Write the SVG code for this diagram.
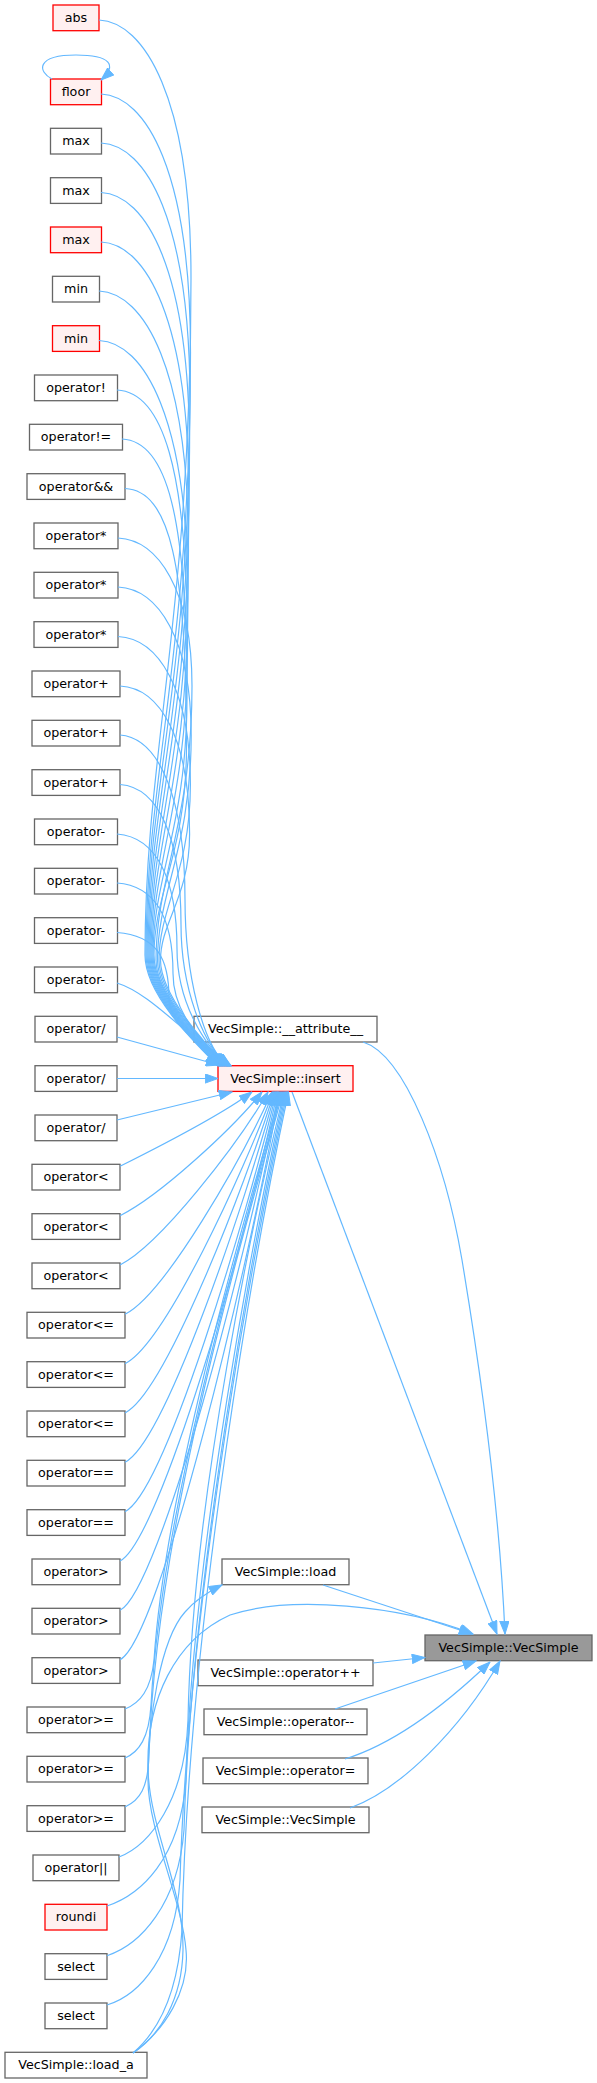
<svg xmlns="http://www.w3.org/2000/svg" width="597" height="2083" viewBox="0 0 597 2083">
<style>
.n rect{fill:#ffffff;stroke:#666666;stroke-width:1.3}
.r rect{fill:#fff0f0;stroke:#ff0000;stroke-width:1.3}
.g rect{fill:#999999;stroke:#666666;stroke-width:1.3}
text{font-family:"DejaVu Sans",sans-serif;font-size:12.7px;text-anchor:middle;fill:#000000}
#edges path{fill:none;stroke:#63b8ff;stroke-width:1.2;marker-end:url(#ah)}
</style>
<defs>
<marker id="ah" viewBox="0 0 14 10" refX="13.3" refY="5" markerWidth="14" markerHeight="10" markerUnits="userSpaceOnUse" orient="auto">
<path d="M0.5,0.4 L13.3,5 L0.5,9.6 z" fill="#63b8ff" stroke="#63b8ff" stroke-width="1"/>
</marker>
</defs>
<rect width="597" height="2083" fill="#ffffff"/>
<g id="nodes">
<g id="n_abs" class="r"><rect x="53" y="5" width="46" height="25.7"/><text x="76" y="22">abs</text></g>
<g id="n_floor" class="r"><rect x="50.5" y="79" width="51" height="25.7"/><text x="76" y="96">floor</text></g>
<g id="n_max1" class="n"><rect x="50.5" y="128.3" width="51" height="25.7"/><text x="76" y="145.3">max</text></g>
<g id="n_max2" class="n"><rect x="50.5" y="177.7" width="51" height="25.7"/><text x="76" y="194.7">max</text></g>
<g id="n_max3" class="r"><rect x="50.5" y="227" width="51" height="25.7"/><text x="76" y="244">max</text></g>
<g id="n_min1" class="n"><rect x="52.5" y="276.3" width="47" height="25.7"/><text x="76" y="293.3">min</text></g>
<g id="n_min2" class="r"><rect x="52.5" y="325.7" width="47" height="25.7"/><text x="76" y="342.7">min</text></g>
<g id="n_not" class="n"><rect x="34.5" y="375" width="83" height="25.7"/><text x="76" y="392">operator!</text></g>
<g id="n_ne" class="n"><rect x="29.5" y="424.3" width="93" height="25.7"/><text x="76" y="441.3">operator!=</text></g>
<g id="n_and" class="n"><rect x="27" y="473.7" width="98" height="25.7"/><text x="76" y="490.7">operator&amp;&amp;</text></g>
<g id="n_mul1" class="n"><rect x="34" y="523" width="84" height="25.7"/><text x="76" y="540">operator*</text></g>
<g id="n_mul2" class="n"><rect x="34" y="572.3" width="84" height="25.7"/><text x="76" y="589.3">operator*</text></g>
<g id="n_mul3" class="n"><rect x="34" y="621.7" width="84" height="25.7"/><text x="76" y="638.7">operator*</text></g>
<g id="n_add1" class="n"><rect x="32" y="671" width="88" height="25.7"/><text x="76" y="688">operator+</text></g>
<g id="n_add2" class="n"><rect x="32" y="720.3" width="88" height="25.7"/><text x="76" y="737.3">operator+</text></g>
<g id="n_add3" class="n"><rect x="32" y="769.7" width="88" height="25.7"/><text x="76" y="786.7">operator+</text></g>
<g id="n_sub1" class="n"><rect x="34.5" y="819" width="83" height="25.7"/><text x="76" y="836">operator-</text></g>
<g id="n_sub2" class="n"><rect x="34.5" y="868.3" width="83" height="25.7"/><text x="76" y="885.3">operator-</text></g>
<g id="n_sub3" class="n"><rect x="34.5" y="917.7" width="83" height="25.7"/><text x="76" y="934.7">operator-</text></g>
<g id="n_sub4" class="n"><rect x="34.5" y="967" width="83" height="25.7"/><text x="76" y="984">operator-</text></g>
<g id="n_div1" class="n"><rect x="35" y="1016.3" width="82" height="25.7"/><text x="76" y="1033.3">operator/</text></g>
<g id="n_div2" class="n"><rect x="35" y="1065.7" width="82" height="25.7"/><text x="76" y="1082.7">operator/</text></g>
<g id="n_div3" class="n"><rect x="35" y="1115" width="82" height="25.7"/><text x="76" y="1132">operator/</text></g>
<g id="n_lt1" class="n"><rect x="32" y="1164.3" width="88" height="25.7"/><text x="76" y="1181.3">operator&lt;</text></g>
<g id="n_lt2" class="n"><rect x="32" y="1213.7" width="88" height="25.7"/><text x="76" y="1230.7">operator&lt;</text></g>
<g id="n_lt3" class="n"><rect x="32" y="1263" width="88" height="25.7"/><text x="76" y="1280">operator&lt;</text></g>
<g id="n_le1" class="n"><rect x="27" y="1312.3" width="98" height="25.7"/><text x="76" y="1329.3">operator&lt;=</text></g>
<g id="n_le2" class="n"><rect x="27" y="1361.7" width="98" height="25.7"/><text x="76" y="1378.7">operator&lt;=</text></g>
<g id="n_le3" class="n"><rect x="27" y="1411" width="98" height="25.7"/><text x="76" y="1428">operator&lt;=</text></g>
<g id="n_eq1" class="n"><rect x="27" y="1460.3" width="98" height="25.7"/><text x="76" y="1477.3">operator==</text></g>
<g id="n_eq2" class="n"><rect x="27" y="1509.7" width="98" height="25.7"/><text x="76" y="1526.7">operator==</text></g>
<g id="n_gt1" class="n"><rect x="32" y="1559" width="88" height="25.7"/><text x="76" y="1576">operator&gt;</text></g>
<g id="n_gt2" class="n"><rect x="32" y="1608.3" width="88" height="25.7"/><text x="76" y="1625.3">operator&gt;</text></g>
<g id="n_gt3" class="n"><rect x="32" y="1657.7" width="88" height="25.7"/><text x="76" y="1674.7">operator&gt;</text></g>
<g id="n_ge1" class="n"><rect x="27" y="1707" width="98" height="25.7"/><text x="76" y="1724">operator&gt;=</text></g>
<g id="n_ge2" class="n"><rect x="27" y="1756.3" width="98" height="25.7"/><text x="76" y="1773.3">operator&gt;=</text></g>
<g id="n_ge3" class="n"><rect x="27" y="1805.7" width="98" height="25.7"/><text x="76" y="1822.7">operator&gt;=</text></g>
<g id="n_or" class="n"><rect x="33" y="1855" width="86" height="25.7"/><text x="76" y="1872">operator||</text></g>
<g id="n_roundi" class="r"><rect x="45" y="1904.3" width="62" height="25.7"/><text x="76" y="1921.3">roundi</text></g>
<g id="n_sel1" class="n"><rect x="45" y="1953.7" width="62" height="25.7"/><text x="76" y="1970.7">select</text></g>
<g id="n_sel2" class="n"><rect x="45" y="2003" width="62" height="25.7"/><text x="76" y="2020">select</text></g>
<g id="n_load_a" class="n"><rect x="5" y="2052.3" width="142" height="25.7"/><text x="76" y="2069.3">VecSimple::load_a</text></g>
<g id="n_attr" class="n"><rect x="194" y="1016.3" width="183" height="25.7"/><text x="285.5" y="1033.3">VecSimple::__attribute__</text></g>
<g id="n_insert" class="r"><rect x="218" y="1065.7" width="135" height="25.7"/><text x="285.5" y="1082.7">VecSimple::insert</text></g>
<g id="n_load" class="n"><rect x="222" y="1559" width="127" height="25.7"/><text x="285.5" y="1576">VecSimple::load</text></g>
<g id="n_vecsimple" class="g"><rect x="425" y="1635" width="167" height="25.7"/><text x="508.5" y="1652">VecSimple::VecSimple</text></g>
<g id="n_inc" class="n"><rect x="198" y="1660" width="175" height="25.7"/><text x="285.5" y="1677">VecSimple::operator++</text></g>
<g id="n_dec" class="n"><rect x="204" y="1709" width="163" height="25.7"/><text x="285.5" y="1726">VecSimple::operator--</text></g>
<g id="n_assign" class="n"><rect x="203" y="1758" width="165" height="25.7"/><text x="285.5" y="1775">VecSimple::operator=</text></g>
<g id="n_ctor2" class="n"><rect x="202" y="1807" width="167" height="25.7"/><text x="285.5" y="1824">VecSimple::VecSimple</text></g>
</g>
<g id="edges">
<path d="M52,79 C38,72 35,55 76,55 C110,55 118,65 101,80"/>
<path d="M99,20 C144,22 191,97.4 191,278 C191,616.5 145,751.9 145,955 C145,995 196,1044 218,1066"/>
<path d="M101,94 C146,96 190.5,171.4 190.5,352 C190.5,653.5 146,774.1 146,955 C146,995 196.7,1044 218.7,1066"/>
<path d="M101,143 C146,145 190,220.4 190,401 C190,678 147,788.8 147,955 C147,995 197.4,1044 219.4,1066"/>
<path d="M101,192.5 C146,194.5 189.5,269.9 189.5,450.5 C189.5,702.8 148,803.7 148,955 C148,995 198.1,1044 220.1,1066"/>
<path d="M101,242 C146,244 189,319.4 189,500 C189,727.5 149,818.5 149,955 C149,995 198.8,1044 220.8,1066"/>
<path d="M99,291 C144,293 188.5,368.4 188.5,549 C188.5,752 150,833.2 150,955 C150,995 199.5,1044 221.5,1066"/>
<path d="M99,340.5 C144,342.5 188,417.9 188,598.5 C188,776.8 151,848 151,955 C151,995 200.2,1044 222.2,1066"/>
<path d="M117,390 C162,392 187.5,467.4 187.5,648 C187.5,801.5 152,862.9 152,955 C152,995 200.9,1044 222.9,1066"/>
<path d="M122,439 C167,441 187,516.4 187,697 C187,826 153,877.6 153,955 C153,995 201.6,1044 223.6,1066"/>
<path d="M125,488.5 C170,490.5 186.5,565.9 186.5,746.5 C186.5,850.8 154,892.4 154,955 C154,995 202.3,1044 224.3,1066"/>
<path d="M118,538 C158,540 192,589.8 192,686 C192,823 156,877.8 156,960 C156,995 203,1044 225,1066"/>
<path d="M118,587 C158,589 191.2,638.8 191.2,735 C191.2,847.5 157.5,892.5 157.5,960 C157.5,995 203.7,1044 225.7,1066"/>
<path d="M118,636.5 C158,638.5 190.4,688.3 190.4,784.5 C190.4,872.3 159,907.4 159,960 C159,995 204.4,1044 226.4,1066"/>
<path d="M120,686 C160,688 189.6,737.8 189.6,834 C189.6,897 160.5,922.2 160.5,960 C160.5,995 205.1,1044 227.1,1066"/>
<path d="M120,735 C160,738 185,800.8 185,899.5 C185,974.5 202.8,1046 227.8,1066"/>
<path d="M120,784.5 C160,787.5 181,840.4 181,924.3 C181,988.1 203.5,1046 228.5,1066"/>
<path d="M117,834 C157,837 177,880 177,949 C177,1001.7 204.2,1046 229.2,1066"/>
<path d="M117,883 C157,886 173,919.2 173,973.5 C173,1015.1 204.9,1046 229.9,1066"/>
<path d="M117,932.5 C157,935.5 169,958.8 169,998.3 C169,1028.8 205.6,1046 230.6,1066"/>
<path d="M117,983 C150,993 185,1035 231.3,1066"/>
<path d="M117,1037 L219,1065"/>
<path d="M117,1078.5 L218,1078.5"/>
<path d="M117,1120 L232,1092"/>
<path d="M120,1166.3 C160,1146.3 222,1114.3 252,1092"/>
<path d="M120,1215.7 C160,1195.7 232,1129.1 262,1092"/>
<path d="M120,1265 C160,1245 238,1143.9 268,1092"/>
<path d="M125,1314.3 C165,1294.3 242,1158.7 272,1092"/>
<path d="M125,1363.7 C165,1343.7 243.1,1173.5 273.1,1092"/>
<path d="M125,1413 C165,1393 244.2,1188.3 274.2,1092"/>
<path d="M125,1462.3 C165,1442.3 245.3,1203.1 275.3,1092"/>
<path d="M125,1511.7 C165,1491.7 246.4,1217.9 276.4,1092"/>
<path d="M120,1561 C160,1541 247.5,1232.7 277.5,1092"/>
<path d="M120,1610.3 C160,1590.3 248.6,1247.5 278.6,1092"/>
<path d="M120,1659.7 C160,1639.7 249.7,1262.3 279.7,1092"/>
<path d="M125,1709 C140,1703 151,1690 154,1660 C166,1480 250,1200 280.8,1092"/>
<path d="M125,1758 C139,1752 149,1738 151,1705 C162,1500 249,1210 281.9,1092"/>
<path d="M125,1807 C140,1800 148,1788 149,1755 C156,1520 248,1220 283,1092"/>
<path d="M119,1857 C150,1845 185,1800 188,1720 C192,1500 255,1210 284.1,1092"/>
<path d="M107,1906 C140,1895 180,1860 186,1780 C192,1560 256,1215 285.2,1092"/>
<path d="M107,1955.7 C140,1945 178,1905 184,1830 C191,1580 257,1220 286.3,1092"/>
<path d="M107,2005 C140,1995 175,1955 180,1880 C188,1600 258,1225 287.4,1092"/>
<path d="M133,2053 C160,2030 178,1990 182,1930 C188,1620 259,1230 288.5,1092"/>
<path d="M133,2053 C165,2030 190,1990 186,1950 C182,1900 148,1830 148,1780 C148,1720 160,1640 185,1612 C195,1600 208,1592 222,1585"/>
<path d="M133,2053 C160,2035 182,2000 183,1950 C184,1890 150,1830 148,1770 C146,1700 175,1640 230,1615 C290,1595 400,1605 473,1634"/>
<path d="M363,1042 C405,1055 445,1160 462,1260 C482,1380 500,1520 505,1634"/>
<path d="M292,1092 L497,1634"/>
<path d="M323,1585 L472,1634"/>
<path d="M373,1663 L425,1657.5"/>
<path d="M335,1709 L476,1661"/>
<path d="M345,1759 C390,1745 440,1710 490,1662"/>
<path d="M350,1808 C400,1790 460,1730 500,1661"/>
</g>
</svg>
